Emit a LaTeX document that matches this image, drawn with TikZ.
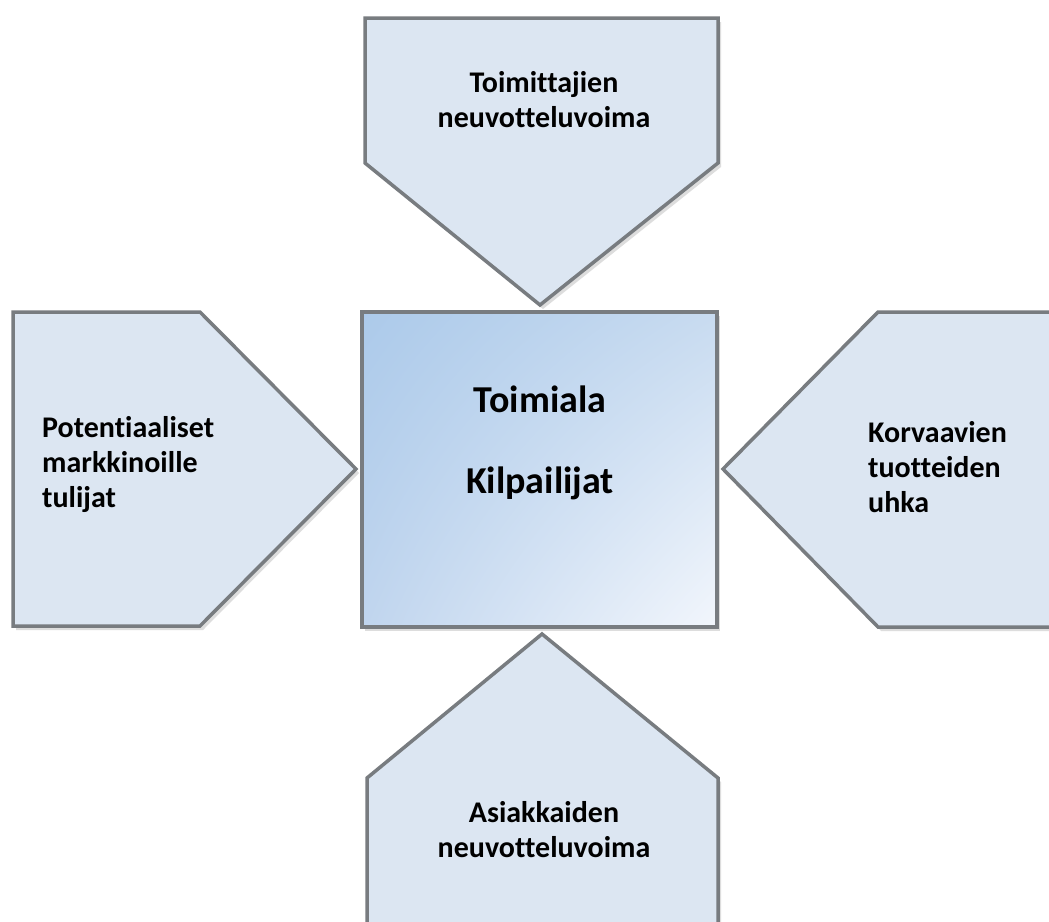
\documentclass[tikz,border=0pt]{standalone}
\usepackage{fontspec}
\usetikzlibrary{shadings}
\setmainfont{Carlito}[Ligatures=NoCommon]
\definecolor{edgegray}{RGB}{120,124,128}
\definecolor{paleblue}{RGB}{220,230,242}
\definecolor{shadowgray}{RGB}{170,170,170}
\definecolor{coreUL}{RGB}{172,202,234}
\definecolor{coreUR}{RGB}{200,219,240}
\definecolor{coreLL}{RGB}{192,213,238}
\definecolor{coreLR}{RGB}{242,246,252}
\tikzset{
  force/.style={fill=paleblue, draw=edgegray, line width=3.5pt, line join=miter},
  shadowed/.style={fill=shadowgray, opacity=0.4},
  label/.style={font=\bfseries\fontsize{30}{35}\selectfont, inner sep=0pt, text=black},
  core/.style={font=\bfseries\fontsize{38}{45}\selectfont, inner sep=0pt, text=black}
}
\begin{document}
\begin{tikzpicture}[x=1pt, y=-1pt]
  \clip (0,0) rectangle (1049,921);
  \fill[white] (0,0) rectangle (1049,921);

  % soft shadows, offset down-right
  \begin{scope}[shift={(3,4)}]
    \fill[shadowed] (365,18) -- (718,18) -- (718,163) -- (540,305) -- (365,163) -- cycle;
    \fill[shadowed] (13,312) -- (200,312) -- (356,469) -- (200,626) -- (13,626) -- cycle;
    \fill[shadowed] (1070,312) -- (878,312) -- (723,469) -- (878,627) -- (1070,627) -- cycle;
    \fill[shadowed] (367,940) -- (367,778) -- (542,634) -- (718,778) -- (718,940) -- cycle;
    \fill[shadowed] (362,312) rectangle (717,627);
  \end{scope}

  % supplier power (top)
  \draw[force] (365,18) -- (718,18) -- (718,163) -- (540,305) -- (365,163) -- cycle;
  % new entrants (left)
  \draw[force] (13,312) -- (200,312) -- (356,469) -- (200,626) -- (13,626) -- cycle;
  % substitutes (right)
  \draw[force] (1070,312) -- (878,312) -- (723,469) -- (878,627) -- (1070,627) -- cycle;
  % buyer power (bottom)
  \draw[force] (367,940) -- (367,778) -- (542,634) -- (718,778) -- (718,940) -- cycle;

  % industry rivalry (centre)
  \shade[upper left=coreUL, upper right=coreUR, lower left=coreLL, lower right=coreLR]
    (362,312) rectangle (717,627);
  \draw[draw=edgegray, line width=3.5pt] (362,312) rectangle (717,627);

  % multi-line labels: base anchor sits on the last line
  \node[label, align=center, anchor=base] (supplier) at (544,127)
    {Toimittajien\\neuvotteluvoima};
  \node[label, align=left, anchor=base west] (entrants) at (42,507)
    {Potentiaaliset\\markkinoille\\tulijat};
  \node[label, align=left, anchor=base west] (substitutes) at (868,512)
    {Korvaavien\\tuotteiden\\uhka};
  \node[label, align=center, anchor=base] (buyers) at (544,857)
    {Asiakkaiden\\neuvotteluvoima};
  \node[core, anchor=base] (industry) at (540,412) {Toimiala};
  \node[core, anchor=base] (rivals) at (540,493) {Kilpailijat};
\end{tikzpicture}
\end{document}
